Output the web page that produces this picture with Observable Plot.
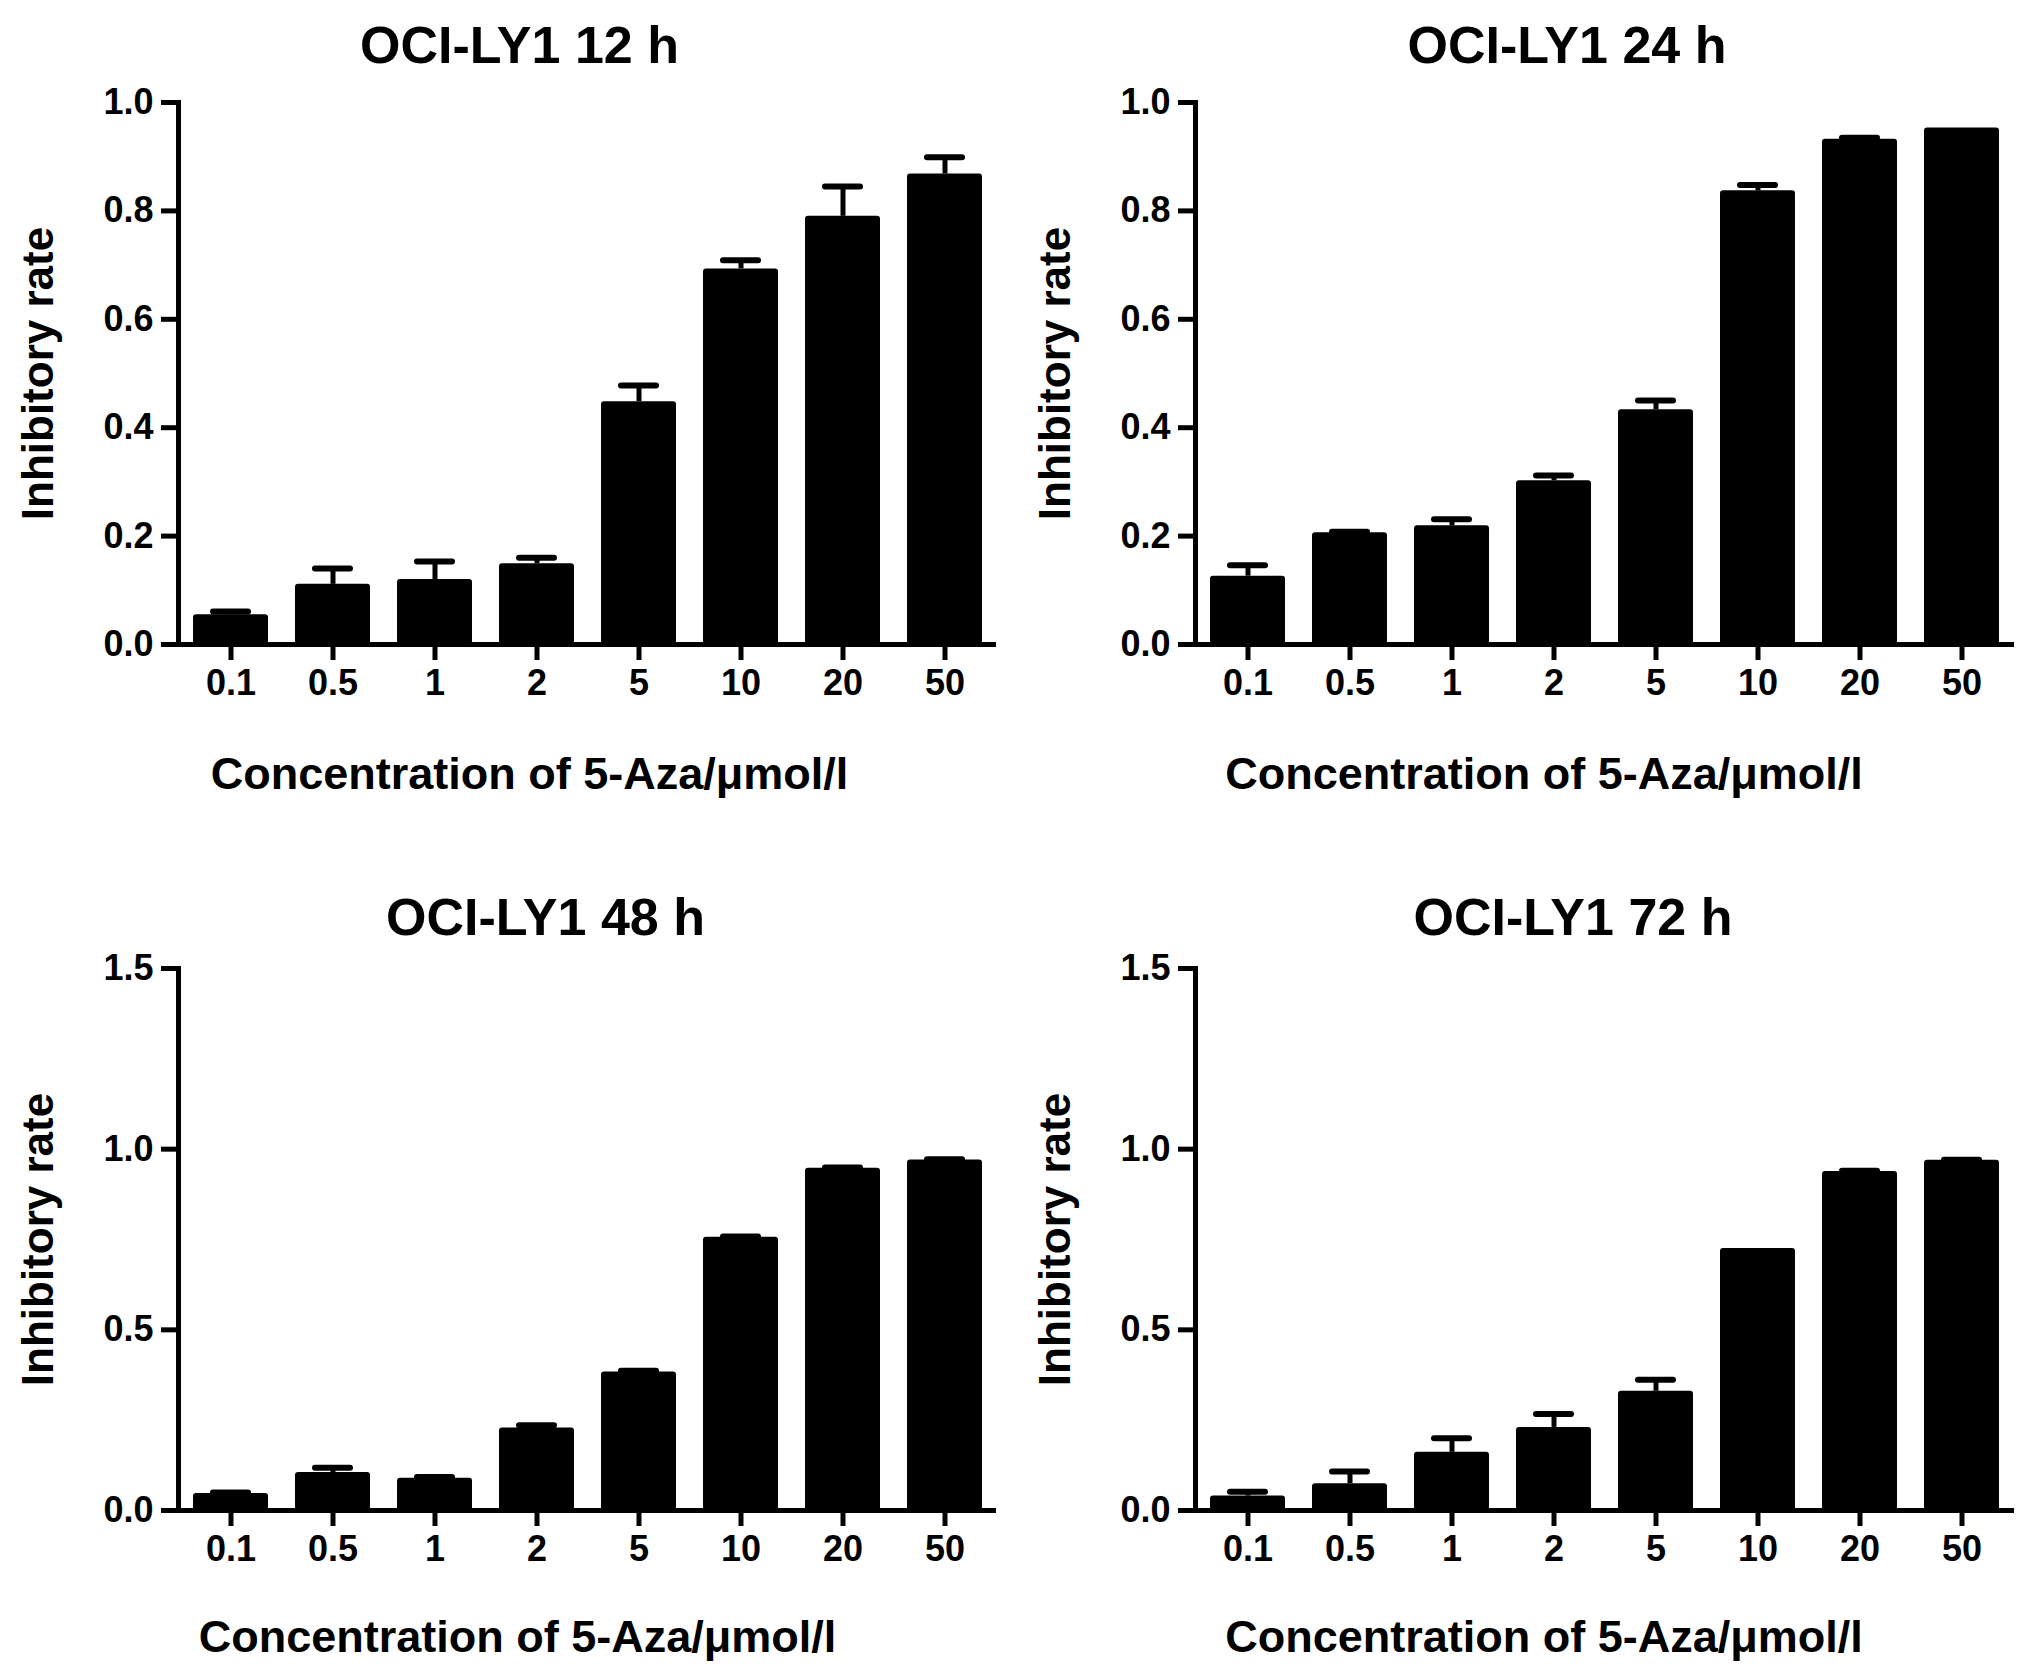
<!DOCTYPE html>
<html>
<head>
<meta charset="utf-8">
<script src="https://cdn.jsdelivr.net/npm/d3@7"></script>
<script src="https://cdn.jsdelivr.net/npm/@observablehq/plot@0.6"></script>
<style>
  html, body { margin: 0; padding: 0; background: #fff; }
  #wrap { position: relative; width: 2031px; height: 1670px; background: #fff; }
  .panel { position: absolute; }
</style>
</head>
<body>
<div id="wrap"></div>
<script>
// ---- data ----
const concentrations = ["0.1", "0.5", "1", "2", "5", "10", "20", "50"];

const titles = ["OCI-LY1 12 h", "OCI-LY1 24 h", "OCI-LY1 48 h", "OCI-LY1 72 h"];

const mean12h = [0.055, 0.111, 0.120, 0.149, 0.448, 0.693, 0.790, 0.868];
const err12h  = [0.006, 0.029, 0.033, 0.011, 0.030, 0.016, 0.055, 0.031];

const mean24h = [0.126, 0.206, 0.219, 0.302, 0.433, 0.837, 0.932, 0.953];
const err24h  = [0.020, 0.002, 0.012, 0.010, 0.017, 0.011, 0.003, 0.000];

const mean48h = [0.047, 0.105, 0.089, 0.228, 0.383, 0.756, 0.947, 0.970];
const err48h  = [0.003, 0.013, 0.004, 0.008, 0.004, 0.002, 0.002, 0.002];

const mean72h = [0.040, 0.074, 0.161, 0.230, 0.330, 0.725, 0.938, 0.969];
const err72h  = [0.012, 0.034, 0.039, 0.037, 0.032, 0.000, 0.002, 0.002];

const yTicksTop = [0, 0.2, 0.4, 0.6, 0.8, 1.0];
const yTicksBottom = [0, 0.5, 1.0, 1.5];

const xLabel = "Concentration of 5-Aza/μmol/l";
const yLabel = "Inhibitory rate";

// ---- drawing ----
const FONT = "'Liberation Sans', Arial, Helvetica, sans-serif";

function panel({title, means, errs, yMax, yTicks, left, top, width, height,
                marginLeft, marginRight, marginTop, marginBottom,
                titleDx, titleDy, xLabelDx, xLabelDy, yLabelDx}) {
  const data = concentrations.map((c, i) => ({conc: c, mean: means[i], err: errs[i], upper: means[i] + errs[i]}));
  const withErr = data.filter(d => d.err > 0);
  const chart = Plot.plot({
    width, height, marginLeft, marginRight, marginTop, marginBottom,
    style: {fontFamily: FONT, fontWeight: "bold", fontSize: "36px", color: "black", background: "white", overflow: "visible"},
    x: {domain: concentrations, paddingInner: 0.267, paddingOuter: 0.1335, axis: null},
    y: {domain: [0, yMax], axis: null},
    marks: [
      Plot.ruleX(withErr, {x: "conc", y1: "mean", y2: "upper", stroke: "black", strokeWidth: 5}),
      Plot.tickY(withErr, {x: "conc", y: "upper", stroke: "black", strokeWidth: 6, strokeLinecap: "round", insetLeft: 20, insetRight: 20}),
      Plot.barY(data, {x: "conc", y: "mean", fill: "black", rx: 3}),
      Plot.ruleY([0], {stroke: "black", strokeWidth: 5}),
      Plot.frame({anchor: "left", stroke: "black", strokeWidth: 5}),
      Plot.axisY({ticks: yTicks, tickSize: 17, tickPadding: 8, strokeWidth: 5, tickFormat: d => d.toFixed(1), fontSize: 36, fontWeight: "bold", label: null}),
      Plot.axisX({tickSize: 16, tickPadding: 9, strokeWidth: 5, fontSize: 36, fontWeight: "bold", label: null}),
      Plot.text([title], {text: d => d, frameAnchor: "top", dx: titleDx, dy: titleDy, fontSize: 52, fontWeight: "bold", textAnchor: "middle", lineAnchor: "middle"}),
      Plot.text([xLabel], {text: d => d, frameAnchor: "bottom", dx: xLabelDx, dy: xLabelDy, fontSize: 45, fontWeight: "bold", textAnchor: "middle", lineAnchor: "middle"}),
      Plot.text([yLabel], {text: d => d, frameAnchor: "left", dx: yLabelDx, rotate: -90, fontSize: 44, fontWeight: "bold", textAnchor: "middle", lineAnchor: "middle"})
    ]
  });
  const div = document.createElement("div");
  div.className = "panel";
  div.style.left = left + "px";
  div.style.top = top + "px";
  div.appendChild(chart);
  document.getElementById("wrap").appendChild(div);
}

// top-left: axis x 178..996, y 102..644
panel({title: titles[0], means: mean12h, errs: err12h, yMax: 1.0, yTicks: yTicksTop,
  left: 0, top: 0, width: 1015, height: 835,
  marginLeft: 178, marginRight: 19, marginTop: 102, marginBottom: 191,
  titleDx: 519 - 587, titleDy: -56, xLabelDx: 529 - 587, xLabelDy: 130, yLabelDx: 38 - 178});

// top-right: axis x 1195..2014
panel({title: titles[1], means: mean24h, errs: err24h, yMax: 1.0, yTicks: yTicksTop,
  left: 1015, top: 0, width: 1016, height: 835,
  marginLeft: 180, marginRight: 17, marginTop: 102, marginBottom: 191,
  titleDx: 1566 - 1604, titleDy: -56, xLabelDx: 1543 - 1604, xLabelDy: 130, yLabelDx: 1055 - 1195});

// bottom-left: y 968..1510
panel({title: titles[2], means: mean48h, errs: err48h, yMax: 1.5, yTicks: yTicksBottom,
  left: 0, top: 835, width: 1015, height: 835,
  marginLeft: 178, marginRight: 19, marginTop: 133, marginBottom: 160,
  titleDx: 545 - 587, titleDy: -50, xLabelDx: 517 - 587, xLabelDy: 127, yLabelDx: 38 - 178});

// bottom-right
panel({title: titles[3], means: mean72h, errs: err72h, yMax: 1.5, yTicks: yTicksBottom,
  left: 1015, top: 835, width: 1016, height: 835,
  marginLeft: 180, marginRight: 17, marginTop: 133, marginBottom: 160,
  titleDx: 1572 - 1604, titleDy: -50, xLabelDx: 1543 - 1604, xLabelDy: 127, yLabelDx: 1055 - 1195});
</script>
</body>
</html>
